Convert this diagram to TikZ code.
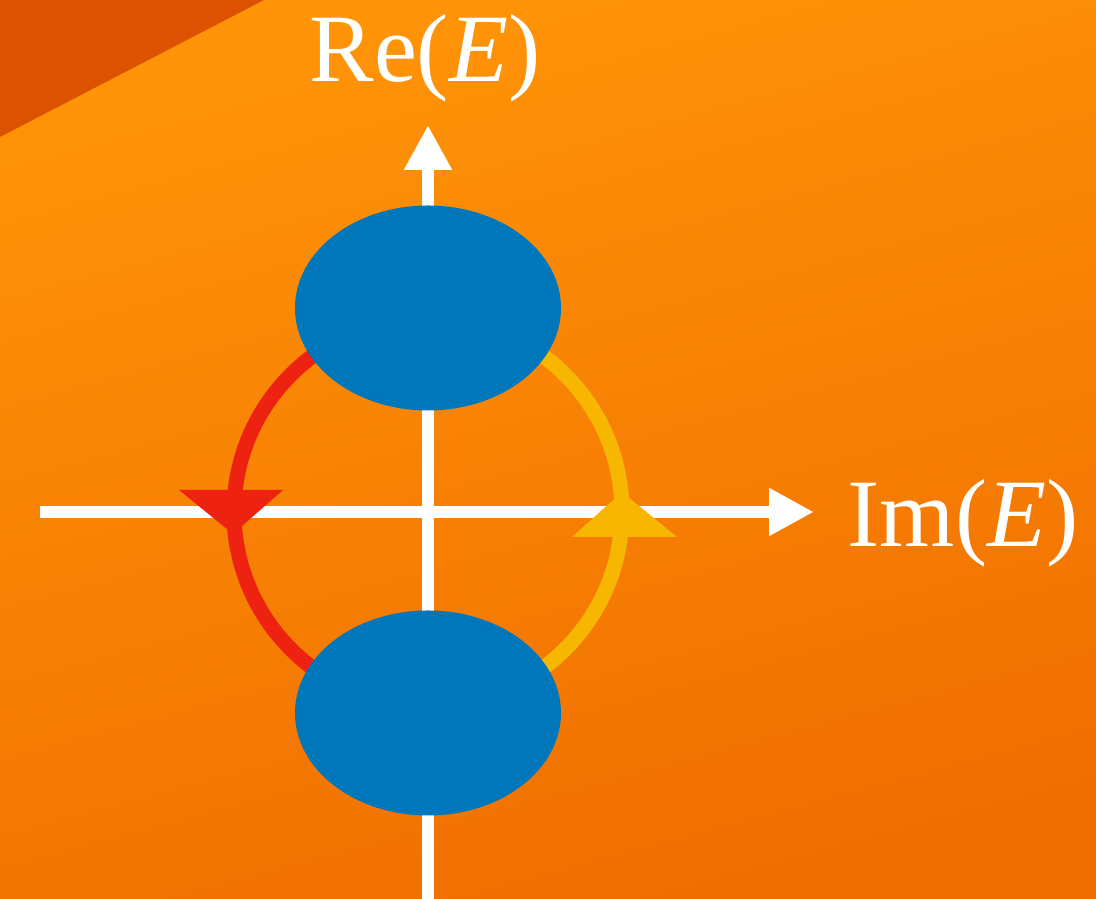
\documentclass[tikz,border=0pt]{standalone}
\usepackage{fontspec}
\setmainfont{Liberation Serif}
\usetikzlibrary{arrows.meta,shapes.geometric}
\definecolor{bgtop}{RGB}{255,148,8}
\definecolor{bgbot}{RGB}{240,110,0}
\definecolor{bgdark}{RGB}{220,82,0}
\definecolor{blob}{RGB}{0,119,187}
\definecolor{redarc}{RGB}{238,34,17}
\definecolor{yelarc}{RGB}{247,182,0}
\tikzset{
  axis/.style={white, line width=0.12cm, -{Triangle[length=0.45cm,width=0.45cm]}},
  blobnode/.style={ellipse, fill=blob, inner sep=0pt, minimum width=2.66cm, minimum height=2.05cm},
  lbl/.style={white, inner sep=0pt, font=\fontsize{27.5}{30}\selectfont},
  arcline/.style={line width=0.15cm}
}
\begin{document}
\begin{tikzpicture}
\useasboundingbox (0,0) rectangle (10.96,-8.99);
% background
\shade[top color=bgtop, bottom color=bgbot, shading angle=15] (0,0) rectangle (10.96,-8.99);
\fill[bgdark] (0,0) -- (2.64,0) -- (0,-1.37) -- cycle;
% axes
\coordinate (vb) at (4.28,-8.99);
\coordinate (vt) at (4.28,-1.25);
\coordinate (hl) at (0.40,-5.12);
\coordinate (hr) at (8.14,-5.12);
\draw[axis] (vb) -- (vt);
\draw[axis] (hl) -- (hr);
% arcs
\coordinate (c) at (4.28,-5.12);
\draw[arcline, redarc] ([shift={(90:1.94)}]c) arc[start angle=90, end angle=270, radius=1.94];
\draw[arcline, yelarc] ([shift={(-90:1.94)}]c) arc[start angle=-90, end angle=90, radius=1.94];
% arc arrowheads
\fill[redarc] (1.79,-4.90) -- (2.83,-4.90) -- (2.33,-5.34) -- cycle;
\fill[yelarc] (5.72,-5.37) -- (6.77,-5.37) -- (6.22,-4.92) -- cycle;
% blobs
\node[blobnode] (top) at (4.28,-3.08) {};
\node[blobnode] (bot) at (4.28,-7.13) {};
% labels
\node[lbl, anchor=base] (re) at (4.25,-0.82) {Re(\textit{E})};
\node[lbl, anchor=base west] (im) at (8.47,-5.47) {Im(\textit{E})};
\end{tikzpicture}
\end{document}
